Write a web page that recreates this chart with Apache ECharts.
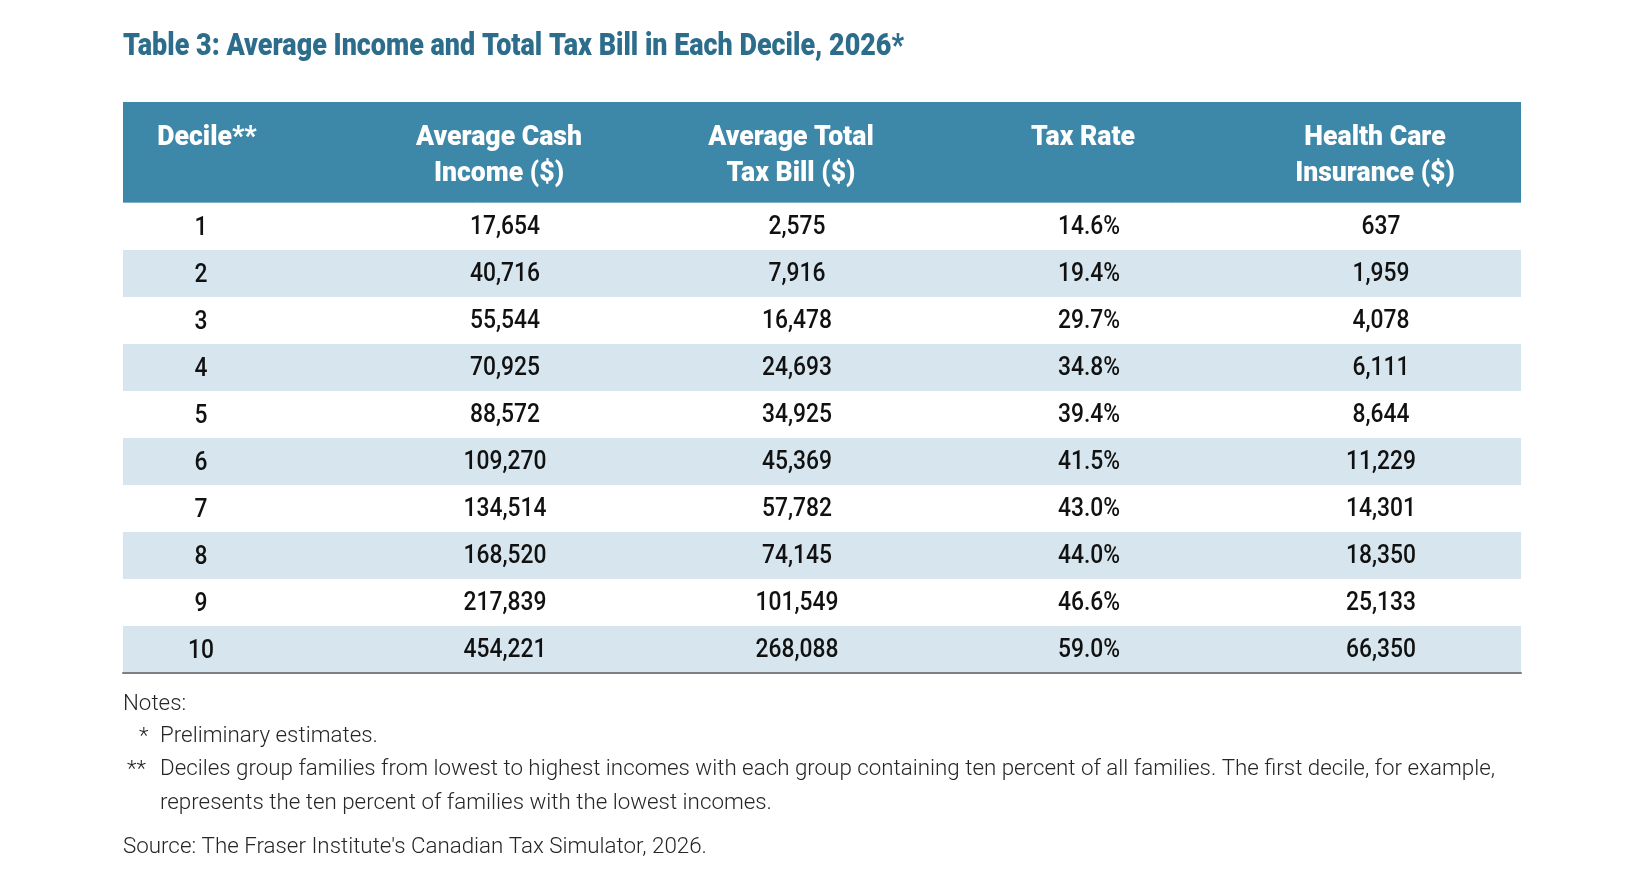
<!DOCTYPE html>
<html>
<head>
<meta charset="utf-8">
<script src="https://cdn.jsdelivr.net/npm/echarts@6/dist/echarts.min.js"></script>
<style>
  html, body { margin: 0; padding: 0; background: #fff; }
  #chart { width: 1642px; height: 870px; }
</style>
</head>
<body>
<div id="chart"></div>
<script>
// table content
const titleText = 'Table 3: Average Income and Total Tax Bill in Each Decile, 2026*';
const columnHeaders = ['Decile**', 'Average Cash\nIncome ($)', 'Average Total\nTax Bill ($)', 'Tax Rate', 'Health Care\nInsurance ($)'];
const deciles = ['1', '2', '3', '4', '5', '6', '7', '8', '9', '10'];
const avgCashIncome = [17654, 40716, 55544, 70925, 88572, 109270, 134514, 168520, 217839, 454221];
const avgTaxBill = [2575, 7916, 16478, 24693, 34925, 45369, 57782, 74145, 101549, 268088];
const taxRatePct = [14.6, 19.4, 29.7, 34.8, 39.4, 41.5, 43.0, 44.0, 46.6, 59.0];
const healthCareInsurance = [637, 1959, 4078, 6111, 8644, 11229, 14301, 18350, 25133, 66350];

const notesHeading = 'Notes:';
const footnoteMarks = ['*', '**'];
const footnoteLines = [
    ['Preliminary estimates.'],
    ['Deciles group families from lowest to highest incomes with each group containing ten percent of all families. The first decile, for example,',
     'represents the ten percent of families with the lowest incomes.']
];
const sourceText = "Source: The Fraser Institute's Canadian Tax Simulator, 2026.";

// colours
const TITLE_COLOR = '#2d6d8c';
const HEADER_BG = '#3d88a8';
const BAND_BG = '#d7e6ee';
const TEXT_COLOR = '#111111';
const NOTE_COLOR = '#262626';

const FONT = 'Roboto, "Noto Sans", sans-serif';
const TITLE_FONT = '900 31px ' + FONT;
const HEAD_FONT = '900 28px ' + FONT;
const BODY_FONT = '500 25px ' + FONT;
const NOTE_FONT = '300 22px ' + FONT;

// the original uses a condensed face, so squeeze text horizontally to the widths in the picture
const measureCtx = document.createElement('canvas').getContext('2d');
function widthOf(text, font) {
    measureCtx.font = font;
    return measureCtx.measureText(text).width;
}
const titleScale = 781 / widthOf(titleText, TITLE_FONT);
const headScale = 166 / widthOf('Average Cash', HEAD_FONT);
const bodyScale = 70 / widthOf('17,654', BODY_FONT);
const noteScale = 1335 / widthOf(footnoteLines[1][0], NOTE_FONT);

const fmtNum = v => v.toLocaleString('en-US');
const fmtPct = v => v.toFixed(1) + '%';

const cellText = deciles.map((d, i) => [
    d,
    fmtNum(avgCashIncome[i]),
    fmtNum(avgTaxBill[i]),
    fmtPct(taxRatePct[i]),
    fmtNum(healthCareInsurance[i])
]);

const cellData = [];
deciles.forEach((d, i) => {
    columnHeaders.forEach((h, j) => cellData.push([j, i]));
});

const HEADER_HEIGHT = 101;

function renderRow(params, api) {
    const cs = params.coordSys;
    const row = api.value(1);
    const c = api.coord([0, row]);
    const h = api.size([0, 1])[1];
    const children = [];
    if (row % 2 === 1) {
        children.push({
            type: 'rect',
            shape: { x: cs.x, y: c[1] - h / 2, width: cs.width, height: h },
            style: { fill: BAND_BG }
        });
    }
    if (row === 0) {
        children.push({
            type: 'rect',
            shape: { x: cs.x, y: cs.y - HEADER_HEIGHT, width: cs.width, height: HEADER_HEIGHT },
            style: { fill: HEADER_BG }
        });
        children.push({
            type: 'line',
            shape: { x1: cs.x, y1: cs.y - 0.5, x2: cs.x + cs.width, y2: cs.y - 0.5 },
            style: { stroke: '#7fb1c9', lineWidth: 1 }
        });
    }
    return { type: 'group', children: children };
}

function renderHeader(params, api) {
    const cs = params.coordSys;
    const col = api.value(0);
    const x = api.coord([col, 0])[0];
    const lines = columnHeaders[col].split('\n');
    return {
        type: 'group',
        children: lines.map((line, k) => ({
            type: 'text',
            x: x,
            y: cs.y - 65 + k * 35.5,
            scaleX: headScale,
            style: {
                text: line,
                font: HEAD_FONT,
                fill: '#ffffff',
                align: 'center',
                verticalAlign: 'middle'
            }
        }))
    };
}

function renderCell(params, api) {
    const col = api.value(0);
    const row = api.value(1);
    const p = api.coord([col, row]);
    // figures sit a little right of their headings, the decile numbers a little left
    return {
        type: 'text',
        x: p[0] + (col === 0 ? -6 : 6),
        y: p[1] + (col === 0 ? 2 : 1),
        scaleX: bodyScale,
        style: {
            text: cellText[row][col],
            font: BODY_FONT,
            fill: TEXT_COLOR,
            align: 'center',
            verticalAlign: 'middle'
        }
    };
}

function noteText(text, x, y) {
    return {
        type: 'text',
        x: x,
        y: y,
        scaleX: noteScale,
        style: {
            text: text,
            font: NOTE_FONT,
            fill: NOTE_COLOR,
            align: 'left',
            verticalAlign: 'middle'
        }
    };
}

const chart = echarts.init(document.getElementById('chart'), null, { renderer: 'canvas' });

const hiddenCat = (data, gridIndex) => ({
    type: 'category',
    gridIndex: gridIndex,
    data: data,
    axisLine: { show: false },
    axisTick: { show: false },
    axisLabel: { show: false },
    splitLine: { show: false }
});

chart.setOption({
    backgroundColor: '#ffffff',
    animation: false,
    grid: [
        // table frame
        { left: 123, right: 121, top: 203, height: 470 },
        // text columns
        { left: 61, right: 121, top: 203, height: 470 }
    ],
    xAxis: [
        Object.assign(hiddenCat(columnHeaders, 0), {
            z: 10,
            axisLine: { show: true, lineStyle: { color: '#7c8085', width: 2 } }
        }),
        hiddenCat(columnHeaders, 1)
    ],
    yAxis: [
        Object.assign(hiddenCat(deciles, 0), { inverse: true }),
        Object.assign(hiddenCat(deciles, 1), { inverse: true })
    ],
    graphic: [
        {
            type: 'text',
            x: 123,
            y: 47,
            scaleX: titleScale,
            style: {
                text: titleText,
                font: TITLE_FONT,
                fill: TITLE_COLOR,
                align: 'left',
                verticalAlign: 'middle'
            }
        },
        noteText(notesHeading, 123, 704),
        noteText(footnoteMarks[0], 139, 737),
        noteText(footnoteLines[0][0], 160, 736),
        noteText(footnoteMarks[1], 127, 770),
        noteText(footnoteLines[1][0], 160, 769),
        noteText(footnoteLines[1][1], 160, 803),
        noteText(sourceText, 123, 847)
    ],
    series: [
        {
            name: 'rows',
            type: 'custom',
            xAxisIndex: 0,
            yAxisIndex: 0,
            silent: true,
            z: 1,
            data: deciles.map((d, i) => [0, i]),
            renderItem: renderRow
        },
        {
            name: 'header',
            type: 'custom',
            xAxisIndex: 1,
            yAxisIndex: 1,
            silent: true,
            z: 3,
            data: columnHeaders.map((h, j) => [j, 0]),
            renderItem: renderHeader
        },
        {
            name: 'cells',
            type: 'custom',
            xAxisIndex: 1,
            yAxisIndex: 1,
            silent: true,
            z: 3,
            data: cellData,
            renderItem: renderCell
        }
    ]
});
</script>
</body>
</html>
